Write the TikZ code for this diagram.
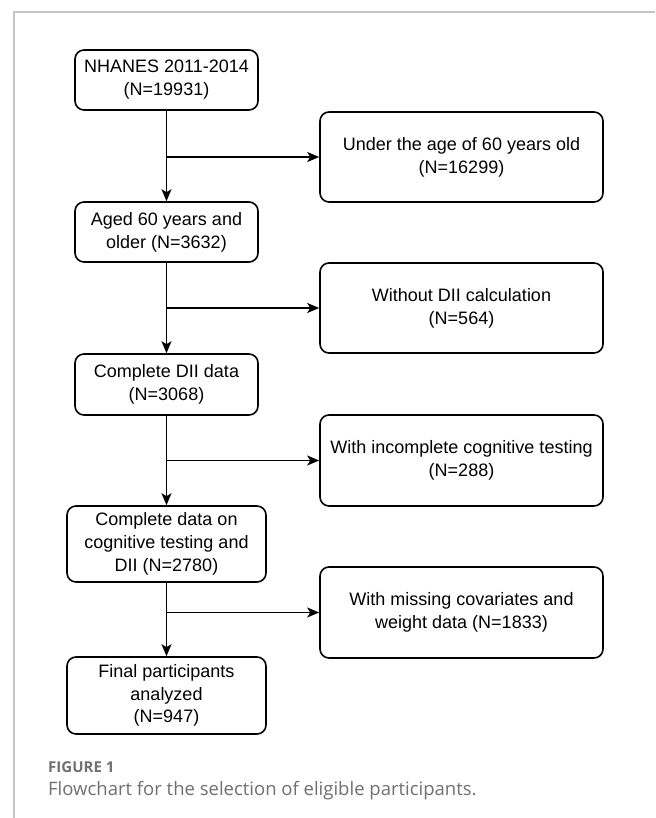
\documentclass[tikz,border=0pt]{standalone}
\usepackage{fontspec}
\setmainfont{Liberation Sans}
\newfontfamily\capfont{Open Sans}
\usetikzlibrary{arrows.meta}
\definecolor{framegray}{HTML}{C4C4C4}
\definecolor{capgray}{HTML}{707070}
\begin{document}
\begin{tikzpicture}[x=1pt,y=-1pt,
  box/.style={draw=black, line width=1.6pt, rounded corners=9pt, align=center,
    font=\fontsize{18}{23}\selectfont, inner sep=0pt},
  lbox/.style={box, minimum width=183pt},
  wbox/.style={box, minimum width=199pt},
  rbox/.style={box, minimum width=283pt, minimum height=90pt},
  arr/.style={draw=black, line width=1.6pt, -{Stealth[length=12pt,width=10pt,inset=3pt]}}
]
\useasboundingbox (0,0) rectangle (655,818);
\fill[white] (0,0) rectangle (655,818);
% frame
\draw[framegray, line width=1.5pt] (655,12) -- (14,12) -- (14,818);

% left column
\node[lbox, minimum height=60pt] (b1) at (166.5,80) {NHANES 2011-2014\\(N=19931)};
\node[lbox, minimum height=60pt] (b2) at (166.5,232) {Aged 60 years and\\older (N=3632)};
\node[lbox, minimum height=61pt] (b3) at (166.5,384.5) {Complete DII data\\(N=3068)};
\node[wbox, minimum height=76pt] (b4) at (166.5,544) {Complete data on\\cognitive testing and\\DII (N=2780)};
\node[wbox, minimum height=77pt, font=\fontsize{18}{22.5}\selectfont] (b5) at (166.5,695.5) {Final participants\\analyzed\\(N=947)};

% right column
\node[rbox] (r1) at (461.5,157) {Under the age of 60 years old\\(N=16299)};
\node[rbox] (r2) at (461.5,308) {Without DII calculation\\(N=564)};
\node[rbox, minimum height=91pt] (r3) at (461.5,460.5) {With incomplete cognitive testing\\(N=288)};
\node[rbox, minimum height=91pt] (r4) at (461.5,612.5) {With missing covariates and\\weight data (N=1833)};

% connectors
\draw[arr] (b1.south) -- (b2.north);
\draw[arr] (b2.south) -- (b3.north);
\draw[arr] (b3.south) -- (b4.north);
\draw[arr] (b4.south) -- (b5.north);
\draw[arr] (b1.south |- r1.west) -- (r1.west);
\draw[arr] (b2.south |- r2.west) -- (r2.west);
\draw[arr] (b3.south |- r3.west) -- (r3.west);
\draw[arr] (b4.south |- r4.west) -- (r4.west);

% caption
\node[anchor=west, inner sep=0pt, text=capgray, font=\capfont\bfseries\fontsize{15}{18}\selectfont] (fig) at (48,767) {FIGURE 1};
\node[anchor=west, inner sep=0pt, text=capgray, font=\capfont\fontsize{18.5}{22}\selectfont] (cap) at (48,791) {Flowchart for the selection of eligible participants.};
\end{tikzpicture}
\end{document}
